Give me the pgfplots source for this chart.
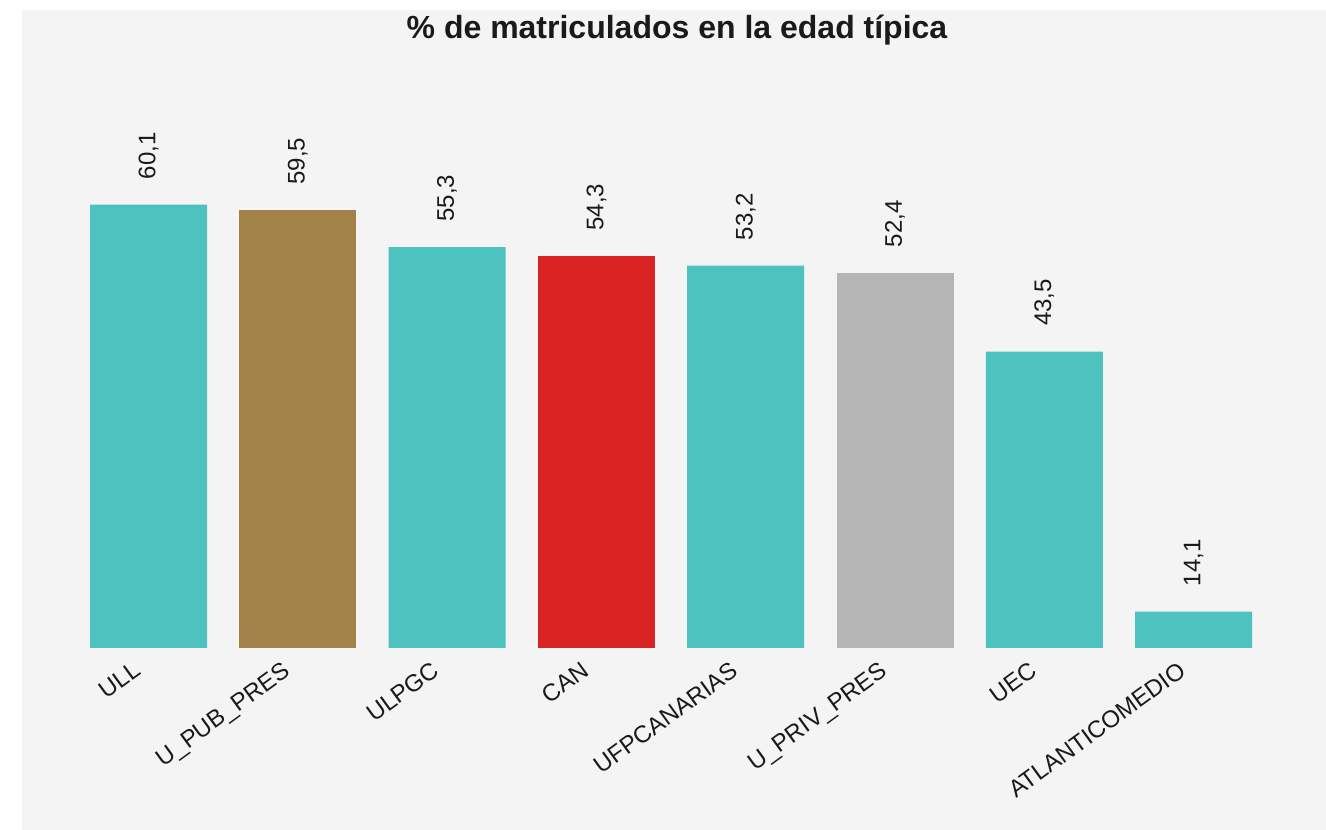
\documentclass[border=0pt]{standalone}
\usepackage{pgfplots}
\pgfplotsset{compat=1.18}
\usepackage{fontspec}
\setmainfont{Liberation Sans}

\definecolor{bgpanel}{HTML}{F4F4F4}
\definecolor{tealbar}{HTML}{4EC2BF}
\definecolor{brownbar}{HTML}{A3824A}
\definecolor{redbar}{HTML}{DA2424}
\definecolor{greybar}{HTML}{B5B5B5}
\definecolor{txt}{HTML}{1A1A1A}

\begin{document}
\begin{tikzpicture}

%%%%%%%%%%%%%%%%%%%%%%%%%%% Canvas %%%%%%%%%%%%%%%%%%%%%%%%%%%
\useasboundingbox (0,0) rectangle (994.5pt,622.5pt);
\fill[white] (0,0) rectangle (994.5pt,622.5pt);
\fill[bgpanel] (16.5pt,0) rectangle (994.5pt,615pt);

\node[anchor=base, font=\fontsize{24}{28}\selectfont\bfseries, text=txt]
  at (507.75pt,593.5pt) {\% de matriculados en la edad típica};

%%%%%%%%%%%%%%%%%%%%%%%%%%% Bars %%%%%%%%%%%%%%%%%%%%%%%%%%%
\begin{axis}[
  at={(44.2pt,136.5pt)}, anchor=south west,
  scale only axis,
  width=918.2pt, height=431.4pt,
  xmin=-0.6, xmax=7.6,
  ymin=10, ymax=75,
  ybar, bar width=87.75pt, bar shift=0pt,
  axis line style={draw=none},
  major tick style={draw=none},
  ytick=\empty,
  xtick={0,...,7},
  xticklabels={ULL,U\_PUB\_PRES,ULPGC,CAN,UFPCANARIAS,U\_PRIV\_PRES,UEC,ATLANTICOMEDIO},
  xticklabel style={font=\fontsize{18}{20}\selectfont, text=txt, inner sep=0pt,
    xshift=-12pt, yshift=-5pt, rotate=36, anchor=north east},
  nodes near coords,
  nodes near coords style={font=\fontsize{18}{20}\selectfont, text=txt,
    inner sep=0pt, yshift=19pt, rotate=90, anchor=west},
  /pgf/number format/.cd, fixed, fixed zerofill, precision=1, use comma,
  assume math mode=true,
]

\addplot[draw=none, fill=tealbar] coordinates {(0,60.1) (2,55.3) (4,53.2) (6,43.5) (7,14.1)};
\addplot[draw=none, fill=brownbar] coordinates {(1,59.5)};
\addplot[draw=none, fill=redbar] coordinates {(3,54.3)};
\addplot[draw=none, fill=greybar] coordinates {(5,52.4)};

\end{axis}
\end{tikzpicture}
\end{document}
